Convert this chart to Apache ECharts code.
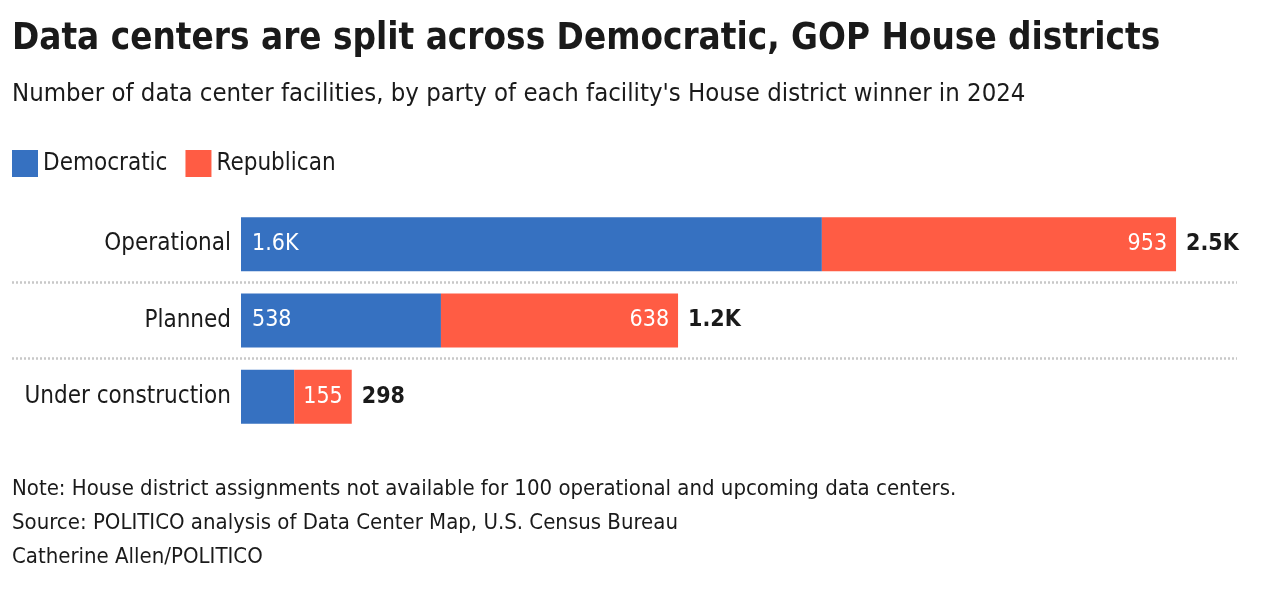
<!DOCTYPE html>
<html>
<head>
<meta charset="utf-8">
<script src="https://cdn.jsdelivr.net/npm/echarts@6/dist/echarts.min.js"></script>
<style>
  html, body { margin: 0; padding: 0; background: #fff; }
  #main { width: 1282px; height: 600px; }
</style>
</head>
<body>
<div id="main"></div>
<script>
// 图表数据
var categories = ['Operational', 'Planned', 'Under construction'];
var demValues = [1563, 538, 143];
var repValues = [953, 638, 155];
var totals = demValues.map(function (v, i) { return v + repValues[i]; });

var FONT = '"DejaVu Sans Condensed", "Roboto", sans-serif';
var BLUE = '#3671c1';
var RED = '#ff5c44';

// 1000以上显示成 1.6K 这种格式
function fmt(v) {
    return v >= 1000 ? (v / 1000).toFixed(1) + 'K' : String(v);
}

var myChart = echarts.init(document.getElementById('main'));

var option = {
    backgroundColor: '#fff',
    textStyle: { fontFamily: FONT },
    title: [
        {
            text: 'Data centers are split across Democratic, GOP House districts',
            left: 12, top: 21, padding: 0,
            textStyle: { fontFamily: FONT, fontSize: 36.5, fontWeight: 'bold', color: '#1a1a1a' }
        },
        {
            text: "Number of data center facilities, by party of each facility's House district winner in 2024",
            left: 12, top: 81, padding: 0,
            textStyle: { fontFamily: FONT, fontSize: 25.5, fontWeight: 'normal', color: '#1a1a1a' }
        },
        {
            text: 'Note: House district assignments not available for 100 operational and upcoming data centers.',
            left: 12, top: 478, padding: 0,
            textStyle: { fontFamily: FONT, fontSize: 22, fontWeight: 'normal', color: '#1a1a1a' }
        },
        {
            text: 'Source: POLITICO analysis of Data Center Map, U.S. Census Bureau',
            left: 12, top: 512, padding: 0,
            textStyle: { fontFamily: FONT, fontSize: 22, fontWeight: 'normal', color: '#1a1a1a' }
        },
        {
            text: 'Catherine Allen/POLITICO',
            left: 12, top: 546, padding: 0,
            textStyle: { fontFamily: FONT, fontSize: 22, fontWeight: 'normal', color: '#1a1a1a' }
        }
    ],
    legend: {
        data: ['Democratic', 'Republican'],
        left: 12, top: 150, padding: 0,
        icon: 'rect',
        itemWidth: 26, itemHeight: 27, itemGap: 18,
        textStyle: { fontFamily: FONT, fontSize: 24, color: '#1a1a1a' },
        selectedMode: false
    },
    grid: [
        { left: 241, right: 45, top: 206, height: 229, containLabel: false },
        { left: 12, right: 45, top: 206, height: 229, containLabel: false }
    ],
    xAxis: [
        { type: 'value', min: 0, max: 2680, show: false, gridIndex: 0 },
        { type: 'value', min: 0, max: 1, show: false, gridIndex: 1 }
    ],
    yAxis: [
        {
            type: 'category',
            gridIndex: 0,
            data: categories,
            inverse: true,
            axisLine: { show: false },
            axisTick: { show: false },
            splitLine: { show: false },
            axisLabel: { fontFamily: FONT, fontSize: 24, color: '#1a1a1a', margin: 10 }
        },
        {
            // 只用来画分隔的虚线
            type: 'category',
            gridIndex: 1,
            data: categories,
            inverse: true,
            axisLine: { show: false },
            axisTick: { show: false },
            axisLabel: { show: false },
            splitLine: {
                show: true,
                showMinLine: false,
                showMaxLine: false,
                lineStyle: { color: '#c8c8c8', width: 2.5, type: [2, 2] }
            }
        }
    ],
    series: [
        {
            name: 'Democratic',
            type: 'bar',
            stack: 'party',
            barWidth: 54,
            itemStyle: { color: BLUE },
            label: {
                show: true, position: 'insideLeft', distance: 11,
                color: '#fff', fontFamily: FONT, fontSize: 23,
                formatter: function (p) { return fmt(p.value); }
            },
            // 太窄的条不显示数字
            data: demValues.map(function (v, i) {
                return i === 2 ? { value: v, label: { show: false } } : v;
            })
        },
        {
            name: 'Republican',
            type: 'bar',
            stack: 'party',
            barWidth: 54,
            itemStyle: { color: RED },
            label: {
                show: true, position: 'insideRight', distance: 9,
                color: '#fff', fontFamily: FONT, fontSize: 23,
                formatter: function (p) { return fmt(p.value); }
            },
            data: repValues
        },
        {
            name: 'Total',
            type: 'bar',
            barWidth: 54,
            barGap: '-100%',
            silent: true,
            itemStyle: { color: 'rgba(0,0,0,0)' },
            label: {
                show: true, position: 'right', distance: 10,
                color: '#1a1a1a', fontFamily: FONT, fontSize: 23, fontWeight: 'bold',
                formatter: function (p) { return fmt(p.value); }
            },
            data: totals
        }
    ]
};

myChart.setOption(option);
</script>
</body>
</html>
